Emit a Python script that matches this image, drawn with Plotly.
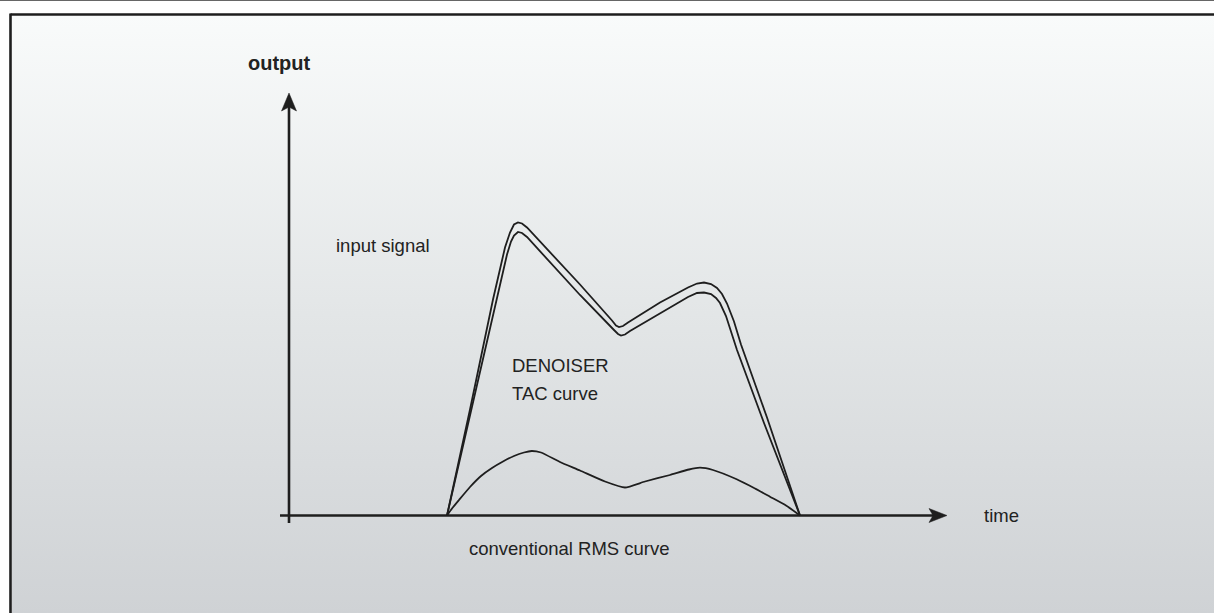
import plotly.graph_objects as go

# Diagram coordinates: time (x) and output (y), origin at the axes crossing.
# ---- input signal (outer curve) ----
input_t = [158, 181, 204, 216, 221, 225, 229, 233, 238, 251, 291, 323, 327, 330, 334, 339,
           371, 399, 408, 415, 422, 428, 433, 438, 445, 452, 478, 511]
input_v = [0, 106, 216, 268, 283, 291, 293, 292, 288, 274, 231, 195, 190, 188.5, 189.5, 193,
           213, 228, 232, 233, 231.5, 227.5, 221.5, 212, 194, 171, 98, 0]

# ---- DENOISER TAC curve (inner curve) ----
tac_t = [158, 183, 207.5, 218, 222, 225, 229, 233, 238, 251, 291, 325, 329, 332, 336, 341,
         371, 399, 408, 415, 422, 427, 431, 437, 448, 475, 511]
tac_v = [0, 108, 216, 261, 274, 280, 283.5, 282.5, 278.5, 264.5, 220.5, 185.5, 181.5, 180, 181, 184.5,
         202.5, 218.5, 222.5, 223, 221.5, 217.5, 212.5, 199.5, 165.5, 92.5, 0]

# ---- conventional RMS curve ----
rms_t = [158, 163, 170, 181, 192, 203, 214, 225, 235, 242.7, 252, 271, 291, 316, 336, 356,
         381, 400, 411, 424, 447.7, 466, 481, 497, 511]
rms_v = [0, 7, 15.5, 28.5, 39.5, 47.5, 54, 59.5, 63, 64.5, 63, 53.5, 45, 34, 28, 34,
         40.5, 46, 47.8, 45.5, 36.2, 27, 18.8, 10, 0]

# Axis extents
x_axis_start, x_axis_end = -9, 658
y_axis_start, y_axis_end = -7.5, 422.5

# Labels
labels = [
    dict(text="<b>output</b>", x=-10, y=452.5, anchor="center", size=20),
    dict(text="input signal", x=45, y=270.5, anchor="left", size=18.5),
    dict(text="DENOISER", x=221, y=150.5, anchor="left", size=18.5),
    dict(text="TAC curve", x=221, y=122.5, anchor="left", size=18.5),
    dict(text="conventional RMS curve", x=178, y=-32.5, anchor="left", size=18.5),
    dict(text="time", x=693, y=0.5, anchor="left", size=18.5),
]

X0, X1 = -289, 925
Y0, Y1 = -97.5, 515.5
DARK = "#1e1e1e"

fig = go.Figure()

# gradient panel background
frame_left, frame_top = -277, 500.5
fig.add_trace(go.Scatter(
    x=[frame_left, X1, X1, frame_left, frame_left],
    y=[frame_top, frame_top, Y0, Y0, frame_top],
    mode="lines", line=dict(width=0), fill="toself",
    fillgradient=dict(type="vertical", start=Y0, stop=frame_top,
                      colorscale=[[0, "#cfd2d5"], [0.5, "#e3e6e7"], [1, "#f9fbfb"]]),
    hoverinfo="skip", showlegend=False))

for tt, vv in [(input_t, input_v), (tac_t, tac_v)]:
    fig.add_trace(go.Scatter(x=tt, y=vv, mode="lines",
                             line=dict(color=DARK, width=1.8),
                             hoverinfo="skip", showlegend=False))
fig.add_trace(go.Scatter(x=rms_t, y=rms_v, mode="lines",
                         line=dict(color=DARK, width=1.8, shape="spline", smoothing=0.5),
                         hoverinfo="skip", showlegend=False))

shapes = []
# top thin line
shapes.append(dict(type="line", x0=X0, x1=X1, y0=515, y1=515, line=dict(color="#666666", width=1.2)))
# frame borders
shapes.append(dict(type="line", x0=frame_left - 1.5, x1=X1, y0=frame_top + 0.5, y1=frame_top + 0.5,
                   line=dict(color=DARK, width=2.6)))
shapes.append(dict(type="line", x0=frame_left - 1.5, x1=frame_left - 1.5, y0=frame_top + 1.5, y1=Y0,
                   line=dict(color=DARK, width=2.6)))
# axes
shapes.append(dict(type="line", x0=x_axis_start, x1=x_axis_end - 12, y0=0, y1=0,
                   line=dict(color=DARK, width=2.6)))
shapes.append(dict(type="line", x0=0, x1=0, y0=y_axis_start, y1=y_axis_end - 12,
                   line=dict(color=DARK, width=2.6)))
# arrow heads
xe = x_axis_end
shapes.append(dict(type="path", path=f"M {xe} 0 L {xe-18} 7 L {xe-14} 0 L {xe-18} -7 Z",
                   fillcolor=DARK, line=dict(color=DARK, width=0.5)))
ye = y_axis_end
shapes.append(dict(type="path", path=f"M 0 {ye} L 7.5 {ye-18} L 0 {ye-14} L -7.5 {ye-18} Z",
                   fillcolor=DARK, line=dict(color=DARK, width=0.5)))

annotations = []
for lb in labels:
    annotations.append(dict(text=lb["text"], x=lb["x"], y=lb["y"], xref="x", yref="y",
                            xanchor=lb["anchor"], yanchor="middle", showarrow=False,
                            font=dict(family="Liberation Sans, Arial, sans-serif",
                                      size=lb["size"], color="#222222")))

fig.update_layout(
    width=1214, height=613,
    margin=dict(l=0, r=0, t=0, b=0),
    paper_bgcolor="white", plot_bgcolor="white",
    xaxis=dict(range=[X0, X1], visible=False, fixedrange=True),
    yaxis=dict(range=[Y0, Y1], visible=False, fixedrange=True),
    shapes=shapes, annotations=annotations,
    showlegend=False,
)

fig.write_html("out.html", config={"displayModeBar": False},
               post_script="document.body.style.margin='0px';document.body.style.overflow='hidden';")
